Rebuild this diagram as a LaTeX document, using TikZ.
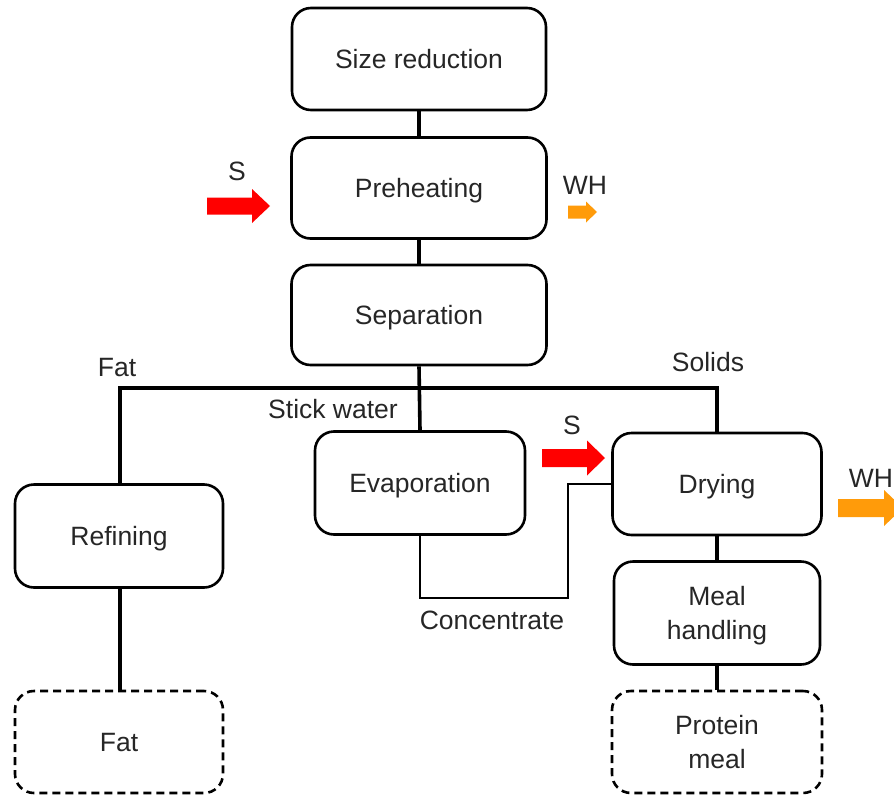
\documentclass[tikz,border=0pt]{standalone}
\usepackage{fontspec}
\setmainfont{Liberation Sans}
\definecolor{steamred}{RGB}{255,0,0}
\definecolor{heatorange}{RGB}{255,155,10}
\definecolor{txt}{RGB}{38,38,38}
% filled block arrow: x-start, x-end, y-centre, shaft half-width, head half-width, head length, colour
\newcommand\blkarrow[7]{%
  \fill[#7] (#1,#3-#4) -- (#2-#6,#3-#4) -- (#2-#6,#3-#5) -- (#2,#3)
    -- (#2-#6,#3+#5) -- (#2-#6,#3+#4) -- (#1,#3+#4) -- cycle;}
\begin{document}
\begin{tikzpicture}[x=1pt,y=-1pt,
  font=\fontsize{26.5}{34}\selectfont,
  stepbox/.style={draw=black,line width=2.6pt,rounded corners=19pt,
    align=center,text=txt,inner sep=0pt,text depth=0pt},
  endbox/.style={stepbox,dash pattern=on 8pt off 5pt},
  link/.style={draw=black,line width=3.6pt},
  lbl/.style={text=txt,inner sep=0pt,anchor=center}]
\useasboundingbox (0,0) rectangle (894,795);

% process steps
\node[stepbox,minimum width=254pt,minimum height=102pt] (sr) at (419,59) {Size reduction};
\node[stepbox,minimum width=255pt,minimum height=101pt] (ph) at (419,188) {Preheating};
\node[stepbox,minimum width=255pt,minimum height=100pt] (sep) at (419,315) {Separation};
\node[stepbox,minimum width=210pt,minimum height=103pt] (evap) at (420,483) {Evaporation};
\node[stepbox,minimum width=208pt,minimum height=103pt] (ref) at (119,536) {Refining};
\node[stepbox,minimum width=209pt,minimum height=102pt] (dry) at (717,484) {Drying};
\node[stepbox,minimum width=206pt,minimum height=103pt] (meal) at (717,613) {Meal\\handling};
\node[endbox,minimum width=208pt,minimum height=102pt] (fat) at (119,742) {Fat};
\node[endbox,minimum width=210pt,minimum height=102pt] (prot) at (717,742) {Protein\\meal};

% junction points
\coordinate (jl) at (120,388);
\coordinate (jr) at (717,388);
\coordinate (cbot) at (568,598);

% connectors
\draw[link] (sr.south) -- (ph.north);
\draw[link] (ph.south) -- (sep.north);
\draw[link] (sep.south) -- (evap.north);
\draw[link] (ref.north -| jl) -- (jl) -- (jr) -- (dry.north);
\draw[link] (ref.south -| jl) -- (fat.north -| jl);
\draw[link] (dry.south) -- (meal.north);
\draw[link] (meal.south) -- (prot.north);
\draw[link,line width=2.8pt] (evap.south) |- (cbot) |- (dry.west);

% stream labels
\node[lbl] (lfat) at (117,368) {Fat};
\node[lbl] (lsol) at (708,362) {Solids};
\node[lbl] (lsw) at (333,409) {Stick water};
\node[lbl] (lconc) at (492,620) {Concentrate};

% steam inputs and waste heat outputs
\blkarrow{207}{270}{206}{8.5}{17}{18}{steamred}
\node[lbl] (s1) at (237,171) {S};
\blkarrow{568}{597}{212}{6.5}{10.5}{11}{heatorange}
\node[lbl] (wh1) at (585,185) {WH};
\blkarrow{542}{605}{458}{9}{17.5}{18}{steamred}
\node[lbl] (s2) at (572,425) {S};
\blkarrow{838}{903}{508}{9}{18}{19}{heatorange}
\node[lbl] (wh2) at (871,478) {WH};
\end{tikzpicture}
\end{document}
